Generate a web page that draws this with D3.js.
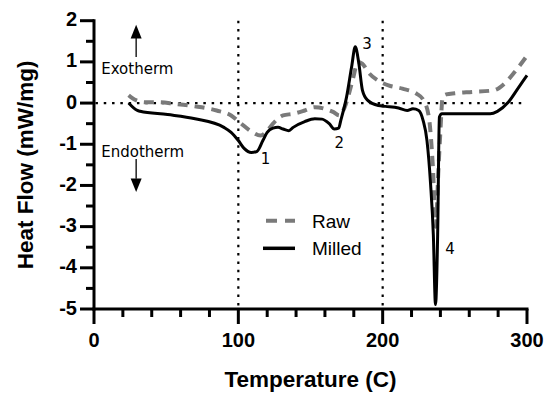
<!DOCTYPE html>
<html>
<head>
<meta charset="utf-8">
<script src="https://d3js.org/d3.v7.min.js"></script>
<style>
  body { margin: 0; background: #fff; }
  svg { display: block; }
</style>
</head>
<body>
<svg id="chart" width="550" height="400"></svg>
<script>
// DSC traces
const tempMilled = [24, 30, 32, 51, 70, 90, 95, 100, 104, 109, 113, 117, 120, 124, 127.5, 131, 135, 138, 146, 153, 158, 163, 166.5, 169.5, 171, 175, 178.5, 181, 183.5, 186, 189.5, 197, 202, 211, 217, 221, 225, 228, 230.7, 233.2, 235.1, 236.6, 238.1, 239.3, 241, 250, 274.5, 279.5, 287, 294, 300];
const flowMilled = [0, -0.18, -0.2, -0.28, -0.38, -0.59, -0.71, -0.91, -1.1, -1.2, -1.17, -0.91, -0.71, -0.61, -0.59, -0.63, -0.67, -0.59, -0.45, -0.38, -0.39, -0.5, -0.63, -0.61, -0.42, 0.15, 0.88, 1.37, 0.96, 0.31, 0.07, -0.06, -0.08, -0.12, -0.18, -0.14, -0.18, -0.42, -0.91, -1.97, -3.19, -4.89, -3.19, -0.34, -0.26, -0.26, -0.26, -0.2, 0.02, 0.37, 0.67];

const tempRaw = [24, 29, 36, 44, 56, 70, 85, 95, 102, 109, 115.5, 119, 124, 131, 138, 146, 153, 160, 166, 170, 173.7, 177.3, 179.7, 182.7, 185.8, 190.7, 196.7, 204, 213.7, 223.4, 228.3, 232, 234.8, 236.8, 238.5, 239.9, 241.6, 244, 250, 262, 277, 284.3, 291.6, 299];
const flowRaw = [0.19, 0.07, 0.02, 0.02, -0.02, -0.08, -0.18, -0.3, -0.5, -0.69, -0.79, -0.71, -0.5, -0.3, -0.26, -0.18, -0.1, -0.14, -0.22, -0.3, -0.1, 0.31, 0.63, 1.0, 0.96, 0.72, 0.55, 0.43, 0.35, 0.23, 0.07, -0.34, -1.56, -3.0, -1.72, -0.75, 0.15, 0.21, 0.24, 0.27, 0.31, 0.47, 0.76, 1.1];

const xTicks = [0, 100, 200, 300];
const yTicks = [-5, -4, -3, -2, -1, 0, 1, 2];
const guideTemps = [100, 200];

const peakLabels = ["1", "2", "3", "4"];
const peakX = [115.5, 166.7, 185.9, 243.4];
const peakY = [-1.48, -1.09, 1.31, -3.66];

const seriesNames = ["Raw", "Milled"];

const svg = d3.select("#chart");

const plotLeft = 94, plotRight = 527, plotTop = 20.7, plotBottom = 309;

const x = d3.scaleLinear().domain([0, 300]).range([plotLeft, plotRight]);
const y = d3.scaleLinear().domain([-5, 2]).range([plotBottom, plotTop]);

// dotted guides
const dots = "2.5,5.8";
svg.append("line")
  .attr("x1", x(1)).attr("x2", x(300))
  .attr("y1", y(0)).attr("y2", y(0))
  .attr("stroke", "#000").attr("stroke-width", 2.2)
  .attr("stroke-dasharray", dots);

svg.selectAll(".guide")
  .data(guideTemps).enter()
  .append("line")
  .attr("x1", d => x(d)).attr("x2", d => x(d))
  .attr("y1", y(2)).attr("y2", y(-5))
  .attr("stroke", "#000").attr("stroke-width", 2.2)
  .attr("stroke-dasharray", dots);

// axes
const xAxis = svg.append("g")
  .attr("transform", "translate(0," + plotBottom + ")");
xAxis.append("line")
  .attr("x1", x(0) - 1.5).attr("x2", x(300) + 1.5)
  .attr("stroke", "#000").attr("stroke-width", 3);
xAxis.selectAll(".tk")
  .data(d3.range(0, 301, 20)).enter()
  .append("line")
  .attr("x1", d => x(d)).attr("x2", d => x(d))
  .attr("y1", 0).attr("y2", d => d % 100 === 0 ? 15 : 8)
  .attr("stroke", "#000").attr("stroke-width", 3);
xAxis.selectAll(".lbl")
  .data(xTicks).enter()
  .append("text")
  .attr("x", d => x(d)).attr("y", 38)
  .attr("text-anchor", "middle")
  .attr("font-family", "Liberation Sans, Arial, sans-serif")
  .attr("font-weight", "bold").attr("font-size", "20px")
  .text(d => d);

const yAxis = svg.append("g")
  .attr("transform", "translate(" + plotLeft + ",0)");
yAxis.append("line")
  .attr("y1", y(2) - 1.5).attr("y2", y(-5) + 1.5)
  .attr("stroke", "#000").attr("stroke-width", 3);
yAxis.selectAll(".tk")
  .data(d3.range(-5, 2.01, 0.5)).enter()
  .append("line")
  .attr("y1", d => y(d)).attr("y2", d => y(d))
  .attr("x1", d => Number.isInteger(d) ? -14 : -8).attr("x2", 0)
  .attr("stroke", "#000").attr("stroke-width", 3);
yAxis.selectAll(".lbl")
  .data(yTicks).enter()
  .append("text")
  .attr("x", -17).attr("y", d => y(d))
  .attr("dy", "0.28em")
  .attr("text-anchor", "end")
  .attr("font-family", "Liberation Sans, Arial, sans-serif")
  .attr("font-weight", "bold").attr("font-size", "20px")
  .text(d => d);

// axis titles
svg.append("text")
  .attr("x", (plotLeft + plotRight) / 2).attr("y", 387)
  .attr("text-anchor", "middle")
  .attr("font-family", "Liberation Sans, Arial, sans-serif")
  .attr("font-weight", "bold").attr("font-size", "22.5px")
  .text("Temperature (C)");

svg.append("text")
  .attr("transform", "translate(33," + ((plotTop + plotBottom) / 2) + ") rotate(-90)")
  .attr("text-anchor", "middle")
  .attr("font-family", "Liberation Sans, Arial, sans-serif")
  .attr("font-weight", "bold").attr("font-size", "22.5px")
  .text("Heat Flow (mW/mg)");

// traces
const line = d3.line()
  .x(d => x(d[0]))
  .y(d => y(d[1]))
  .curve(d3.curveMonotoneX);

svg.append("path")
  .datum(d3.zip(tempRaw, flowRaw))
  .attr("d", line)
  .attr("fill", "none")
  .attr("stroke", "#7a7a7a").attr("stroke-width", 4)
  .attr("stroke-dasharray", "10,7");

svg.append("path")
  .datum(d3.zip(tempMilled, flowMilled))
  .attr("d", line)
  .attr("fill", "none")
  .attr("stroke", "#000").attr("stroke-width", 3)
  .attr("stroke-linejoin", "round");

// exo / endo arrows
const arrowX = x(29.2);
svg.append("line")
  .attr("x1", arrowX).attr("x2", arrowX)
  .attr("y1", y(1.58)).attr("y2", y(1.12))
  .attr("stroke", "#000").attr("stroke-width", 1.3);
svg.append("path")
  .attr("d", `M${arrowX},${y(1.9)} L${arrowX - 5.5},${y(1.57)} L${arrowX + 5.5},${y(1.57)} Z`)
  .attr("fill", "#000");
svg.append("line")
  .attr("x1", arrowX).attr("x2", arrowX)
  .attr("y1", y(-1.36)).attr("y2", y(-1.84))
  .attr("stroke", "#000").attr("stroke-width", 1.3);
svg.append("path")
  .attr("d", `M${arrowX},${y(-2.16)} L${arrowX - 5.5},${y(-1.83)} L${arrowX + 5.5},${y(-1.83)} Z`)
  .attr("fill", "#000");

const noteFont = "DejaVu Sans, Verdana, sans-serif";
svg.append("text")
  .attr("x", x(5)).attr("y", y(0.707))
  .attr("font-family", noteFont).attr("font-size", "15px")
  .text("Exotherm");
svg.append("text")
  .attr("x", x(5)).attr("y", y(-1.3))
  .attr("font-family", noteFont).attr("font-size", "15px")
  .text("Endotherm");

// peak numbers
svg.selectAll(".peak")
  .data(peakLabels).enter()
  .append("text")
  .attr("x", (d, i) => x(peakX[i]))
  .attr("y", (d, i) => y(peakY[i]))
  .attr("font-family", noteFont).attr("font-size", "15px")
  .text(d => d);

// legend
const legend = svg.append("g");
const legendY = [220.7, 248.3];
legend.selectAll(".sw")
  .data(seriesNames).enter()
  .append("line")
  .attr("x1", (d, i) => i === 0 ? 266 : 263).attr("x2", 295)
  .attr("y1", (d, i) => legendY[i]).attr("y2", (d, i) => legendY[i])
  .attr("stroke", (d, i) => i === 0 ? "#7a7a7a" : "#000")
  .attr("stroke-width", (d, i) => i === 0 ? 4 : 3.5)
  .attr("stroke-dasharray", (d, i) => i === 0 ? "11,8" : null);
legend.selectAll(".lt")
  .data(seriesNames).enter()
  .append("text")
  .attr("x", 312).attr("y", (d, i) => legendY[i] + 7)
  .attr("font-family", "Liberation Sans, Arial, sans-serif")
  .attr("font-size", "19px")
  .text(d => d);
</script>
</body>
</html>
